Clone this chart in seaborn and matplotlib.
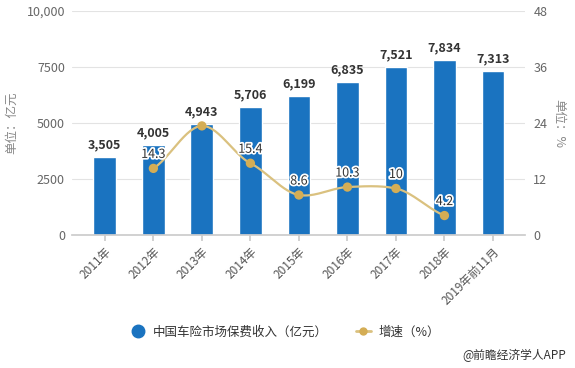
import numpy as np
import pandas as pd
import matplotlib
matplotlib.use('Agg')
import matplotlib.pyplot as plt
import matplotlib.patheffects as pe
from matplotlib.lines import Line2D
import seaborn as sns

# -----------------------------------------------
# DATA
# -----------------------------------------------
years = ['2011年', '2012年', '2013年', '2014年', '2015年',
         '2016年', '2017年', '2018年', '2019年前11月']
premium = [3505, 4005, 4943, 5706, 6199, 6835, 7521, 7834, 7313]
growth_years = ['2012年', '2013年', '2014年', '2015年', '2016年', '2017年', '2018年']
growth = [14.3, 23.4, 15.4, 8.6, 10.3, 10, 4.2]
growth_labels = ['14.3', '', '15.4', '8.6', '10.3', '10', '4.2']

bar_color = '#1a73c0'
line_color = '#dac17f'
dot_color = '#d4ad55'

sns.set_theme(style='white')
plt.rcParams['font.family'] = ['Noto Sans CJK SC', 'DejaVu Sans']

df = pd.DataFrame({'year': years, 'premium': premium})

fig = plt.figure(figsize=(5.75, 3.68), dpi=100)
ax = fig.add_axes([0.125, 0.361, 0.788, 0.609])

sns.barplot(data=df, x='year', y='premium', color=bar_color, width=0.47,
            saturation=1, ax=ax)

ax.set_ylim(0, 10000)
ax.set_yticks([0, 2500, 5000, 7500, 10000])
ax.set_yticklabels(['0', '2500', '5000', '7500', '10,000'])
ax.set_xlim(-0.68, 8.66)
ax.yaxis.grid(True, color='#e3e3e3', lw=0.8)
ax.set_axisbelow(True)
for s in ['top', 'right', 'left']:
    ax.spines[s].set_visible(False)
ax.spines['bottom'].set_color('#cccccc')
ax.tick_params(axis='y', length=0, colors='#666666', labelsize=9, pad=5)
ax.tick_params(axis='x', length=4, color='#cccccc', colors='#555555', labelsize=8.5, bottom=True)
plt.setp(ax.get_xticklabels(), rotation=45, ha='right', rotation_mode='anchor')
ax.set_xlabel('')
ax.set_ylabel('单位：亿元', color='#888888', fontsize=9)
ax.yaxis.set_label_coords(-0.118, 0.5)

for i, v in enumerate(premium):
    ax.text(i, v + 250, f'{v:,}', ha='center', va='bottom', fontsize=9,
            fontweight='bold', color='#333333')

# secondary axis - growth rate
ax2 = ax.twinx()
ax2.set_ylim(0, 48)
ax2.set_yticks([0, 12, 24, 36, 48])
for s in ['top', 'right', 'left', 'bottom']:
    ax2.spines[s].set_visible(False)
ax2.tick_params(axis='y', length=0, colors='#666666', labelsize=9, pad=6)
ax2.set_ylabel('单位：%', color='#888888', fontsize=9, rotation=270, va='center')
ax2.yaxis.set_label_coords(1.075, 0.5)

gx = np.array([years.index(y) for y in growth_years], dtype=float)
gy = np.array(growth, dtype=float)

# smooth curve through the points (cubic hermite, catmull-rom tangents)
m = np.gradient(gy, gx) * 0.7
sx, sy = [], []
for k in range(len(gx) - 1):
    t = np.linspace(0, 1, 30)
    h = gx[k + 1] - gx[k]
    h00 = 2 * t**3 - 3 * t**2 + 1
    h10 = t**3 - 2 * t**2 + t
    h01 = -2 * t**3 + 3 * t**2
    h11 = t**3 - t**2
    sx.extend(gx[k] + t * h)
    sy.extend(h00 * gy[k] + h10 * h * m[k] + h01 * gy[k + 1] + h11 * h * m[k + 1])
ax2.plot(sx, sy, color=line_color, lw=1.6)
sns.scatterplot(x=gx, y=gy, color=dot_color, s=45, edgecolor='none', ax=ax2, zorder=4)

for x, y, lab in zip(gx, gy, growth_labels):
    if lab:
        ax2.text(x, y + 1.6, lab, ha='center', va='bottom', fontsize=9,
                 color='#333333',
                 path_effects=[pe.withStroke(linewidth=2.5, foreground='white')])

# legend
handles = [
    Line2D([], [], marker='o', color='none', markerfacecolor=bar_color,
           markeredgecolor=bar_color, markersize=9),
    Line2D([], [], marker='o', color=line_color, lw=2, markerfacecolor=dot_color,
           markeredgecolor=dot_color, markersize=5),
]
fig.legend(handles, ['中国车险市场保费收入（亿元）', '增速（%）'], loc='center',
           bbox_to_anchor=(0.496, 0.098), ncol=2, frameon=False, fontsize=9,
           handlelength=1.2, handletextpad=0.6, columnspacing=2.2,
           labelcolor='#333333')

fig.text(0.985, 0.015, '@前瞻经济学人APP', ha='right', va='bottom', fontsize=8.5,
         color='#333333')

fig.savefig('out.png', dpi=100)
